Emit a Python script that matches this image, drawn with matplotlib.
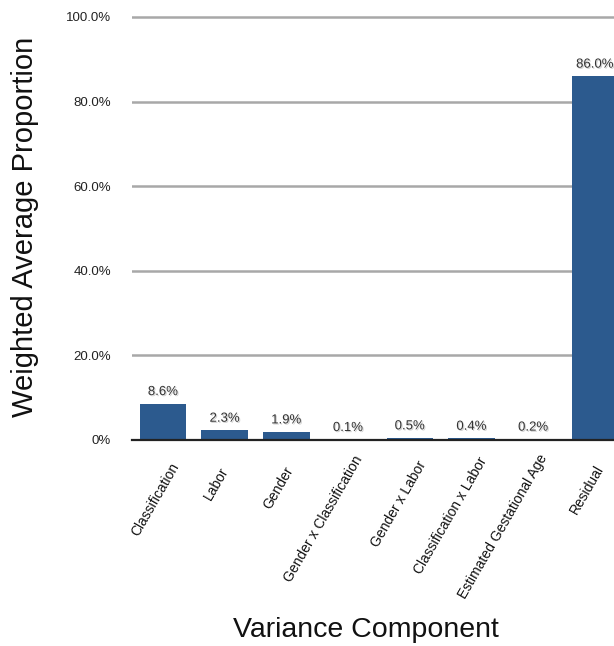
import matplotlib
matplotlib.use('Agg')
import matplotlib.pyplot as plt
from matplotlib.transforms import Affine2D
import matplotlib.patheffects as pe

categories = ['Classification', 'Labor', 'Gender', 'Gender x Classification',
              'Gender x Labor', 'Classification x Labor',
              'Estimated Gestational Age', 'Residual']
values = [8.6, 2.3, 1.9, 0.1, 0.5, 0.4, 0.2, 86.0]
yticks = [0, 20, 40, 60, 80, 100]
ytick_labels = ['0%', '20.0%', '40.0%', '60.0%', '80.0%', '100.0%']

plt.rcParams['font.family'] = ['Liberation Sans', 'DejaVu Sans']

W, H = 614, 646
fig = plt.figure(figsize=(W / 100, H / 100), dpi=100)
ax = fig.add_axes([132 / W, 1 - 440 / H, 1 - 132 / W, (440 - 14) / H])

bar_color = '#2c5a8e'
bars = ax.bar(range(len(values)), values, width=0.754, color=bar_color, zorder=2)

ax.set_xlim(-0.502, 7.31)
ax.set_ylim(0, 100.7)

ax.set_yticks(yticks)
ax.set_yticklabels(ytick_labels)
ax.tick_params(axis='y', length=0, pad=15, labelsize=9.5, labelcolor='#222222')
ax.set_xticks(range(len(categories)))
ax.set_xticklabels([''] * len(categories))
ax.tick_params(axis='x', length=0)

ax.yaxis.grid(True, color='#a8a8a8', lw=1.8)
ax.set_axisbelow(True)
for s in ['left', 'right', 'top']:
    ax.spines[s].set_visible(False)
ax.spines['bottom'].set_color('#222222')
ax.spines['bottom'].set_linewidth(1.6)
ax.spines['bottom'].set_zorder(3)

shadow = [pe.withSimplePatchShadow(offset=(0.8, -0.8), shadow_rgbFace='#777777', alpha=0.35)]
ax.bar_label(bars, labels=['%.1f%%' % v for v in values], padding=4,
             fontsize=9.5, color='#333333', path_effects=shadow)

# rotated category labels
texts = []
for i, c in enumerate(categories):
    t = ax.text(i, 0, c, transform=ax.get_xaxis_transform(), rotation=60,
                ha='center', va='center', rotation_mode='anchor',
                fontsize=10, color='#111111')
    texts.append(t)
fig.canvas.draw()
r = fig.canvas.get_renderer()
for t in texts:
    w, h, d = r.get_text_width_height_descent(t.get_text(), t.get_fontproperties(), ismath=False)
    dx = -8 - 0.28 * max(0.0, w - 85)
    dy = 32 + 0.33 * w
    t.set_transform(ax.get_xaxis_transform() + Affine2D().translate(dx, -dy))

ax.set_ylabel('Weighted Average Proportion', fontsize=21, color='#111111')
ax.yaxis.set_label_coords(-0.193, 0.5)
ax.set_xlabel('Variance Component', fontsize=20.5, color='#111111')
ax.xaxis.set_label_coords(0.4855, -0.4155)

fig.savefig('out.png', dpi=100)
